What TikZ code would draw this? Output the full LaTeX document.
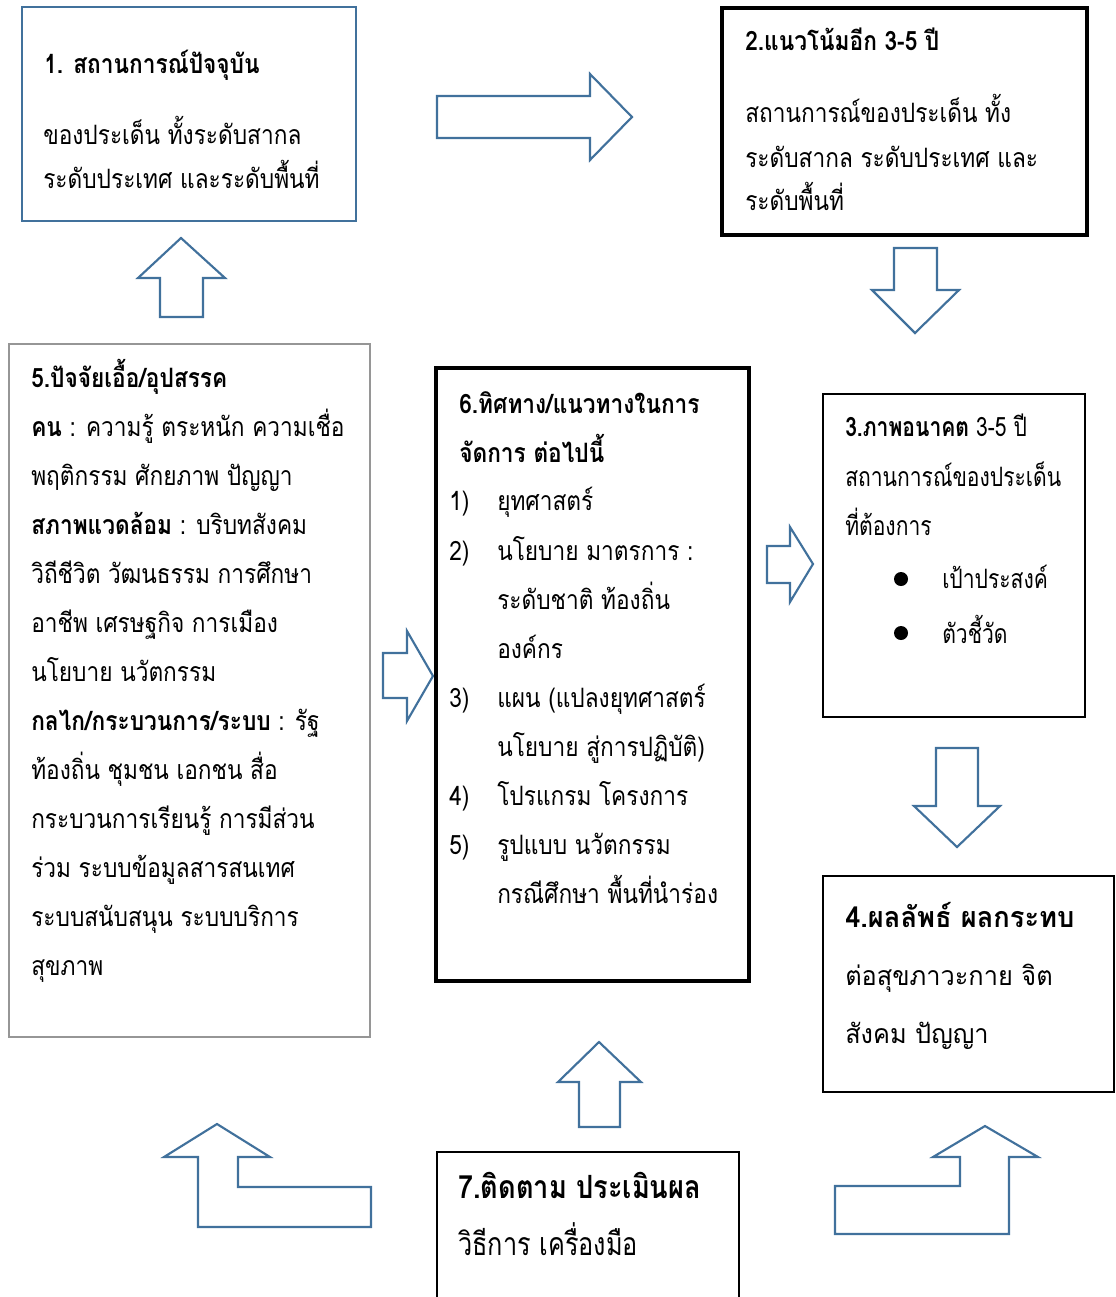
\documentclass[tikz,border=0pt]{standalone}
\usepackage{fontspec}
\newfontfamily\thai[Script=Thai,FakeStretch=0.85]{Loma}
\newfontfamily\thaicond[Script=Thai,FakeStretch=0.79]{Loma}
\newfontfamily\thaiwide[Script=Thai,FakeStretch=0.95]{Loma}
\definecolor{arrowblue}{RGB}{65,113,156}
\definecolor{boxgray}{RGB}{150,150,150}

\begin{document}
\begin{tikzpicture}[x=0.75pt,y=-0.75pt,
  txt/.style={anchor=base west,inner sep=0pt,font=\thai\fontsize{20}{24}\selectfont},
  ctxt/.style={txt,font=\thaicond\fontsize{20}{24}\selectfont},
  wtxt/.style={txt,font=\thaiwide\fontsize{20}{24}\selectfont},
  ntxt/.style={txt,font=\thai\fontsize{24}{28}\selectfont},
  barrow/.style={draw=arrowblue,line width=1.6pt,fill=white,line join=miter}]
\useasboundingbox (0,0) rectangle (1116,1297);
% boxes
\draw [draw=arrowblue,line width=2.2pt] (22,7) rectangle (356,221);
\draw [line width=3.2pt] (722,8) rectangle (1087,235);
\draw [line width=1.8pt] (823,394) rectangle (1085,717);
\draw [line width=1.8pt] (823,876) rectangle (1114,1092);
\draw [draw=boxgray,line width=2pt] (9,344) rectangle (370,1037);
\draw [line width=2.6pt] (436,368) rectangle (749,981);
\draw [line width=2pt] (437,1152) rectangle (739,1320);
% block arrows
\draw [barrow] (437,96) -- (590,96) -- (590,74) -- (632,117) -- (590,160) -- (590,138) -- (437,138) -- cycle;
\draw [barrow] (160,317) -- (160,278) -- (138,278) -- (181,238) -- (225,278) -- (203,278) -- (203,317) -- cycle;
\draw [barrow] (894,248) -- (937,248) -- (937,290) -- (959,290) -- (915,333) -- (872,290) -- (894,290) -- cycle;
\draw [barrow] (383,653) -- (407,653) -- (407,631) -- (433,676) -- (407,721) -- (407,698) -- (383,698) -- cycle;
\draw [barrow] (767,546) -- (790,546) -- (790,527) -- (813,564) -- (790,602) -- (790,583) -- (767,583) -- cycle;
\draw [barrow] (936,748) -- (978,748) -- (978,806) -- (1000,806) -- (957,847) -- (914,806) -- (936,806) -- cycle;
\draw [barrow] (579,1127) -- (579,1082) -- (558,1082) -- (599,1042) -- (641,1082) -- (620,1082) -- (620,1127) -- cycle;
\draw [barrow] (198,1227) -- (371,1227) -- (371,1187) -- (238,1187) -- (238,1157) -- (270,1157) -- (217,1124) -- (164,1157) -- (198,1157) -- cycle;
\draw [barrow] (835,1234) -- (1009,1234) -- (1009,1157) -- (1038,1157) -- (985,1126) -- (933,1157) -- (960,1157) -- (960,1186) -- (835,1186) -- cycle;
% box 1
\node [txt] (t1a) at (44,73) {\bfseries 1. สถานการณ์ปัจจุบัน};
\node [txt] (t1b) at (43,144) {ของประเด็น ทั้งระดับสากล};
\node [txt] (t1c) at (43,188) {ระดับประเทศ และระดับพื้นที่};
% box 2
\node [txt] (t2a) at (745,50) {\bfseries 2.แนวโน้มอีก 3-5 ปี};
\node [txt] (t2b) at (745,122) {สถานการณ์ของประเด็น ทั้ง};
\node [txt] (t2c) at (745,167) {ระดับสากล ระดับประเทศ และ};
\node [txt] (t2d) at (745,210) {ระดับพื้นที่};
% box 3
\node [ctxt] (t3a) at (845,436) {\textbf{3.ภาพอนาคต} 3-5 ปี};
\node [ctxt] (t3b) at (845,486) {สถานการณ์ของประเด็น};
\node [ctxt] (t3c) at (845,535) {ที่ต้องการ};
\fill (901,579) circle (7);
\node [ctxt] (t3d) at (942,588) {เป้าประสงค์};
\fill (901,633) circle (7);
\node [ctxt] (t3e) at (942,643) {ตัวชี้วัด};
% box 4
\node [wtxt,font=\thaiwide\fontsize{21.5}{25}\selectfont] (t4a) at (845,927) {\bfseries 4.ผลลัพธ์ ผลกระทบ};
\node [wtxt] (t4b) at (845,985) {ต่อสุขภาวะกาย จิต};
\node [wtxt] (t4c) at (845,1043) {สังคม ปัญญา};
% box 5
\node [txt] (t5a) at (31,387) {\bfseries 5.ปัจจัยเอื้อ/อุปสรรค};
\node [txt] (t5b) at (31,436) {\textbf{คน} : ความรู้ ตระหนัก ความเชื่อ};
\node [txt] (t5c) at (31,485) {พฤติกรรม ศักยภาพ ปัญญา};
\node [txt] (t5d) at (31,534) {\textbf{สภาพแวดล้อม} : บริบทสังคม};
\node [txt] (t5e) at (31,583) {วิถีชีวิต วัฒนธรรม การศึกษา};
\node [txt] (t5f) at (31,632) {อาชีพ เศรษฐกิจ การเมือง};
\node [txt] (t5g) at (31,681) {นโยบาย นวัตกรรม};
\node [txt] (t5h) at (31,730) {\textbf{กลไก/กระบวนการ/ระบบ} : รัฐ};
\node [txt] (t5i) at (31,779) {ท้องถิ่น ชุมชน เอกชน สื่อ};
\node [txt] (t5j) at (31,828) {กระบวนการเรียนรู้ การมีส่วน};
\node [txt] (t5k) at (31,877) {ร่วม ระบบข้อมูลสารสนเทศ};
\node [txt] (t5l) at (31,926) {ระบบสนับสนุน ระบบบริการ};
\node [txt] (t5m) at (31,975) {สุขภาพ};
% box 6
\node [txt] (t6a) at (459,413) {\bfseries 6.ทิศทาง/แนวทางในการ};
\node [txt] (t6b) at (459,462) {\bfseries จัดการ ต่อไปนี้};
\node [txt] (n61) at (449,510) {1)};
\node [txt] (t61) at (497,510) {ยุทศาสตร์};
\node [txt] (n62) at (449,560) {2)};
\node [txt] (t62) at (497,560) {นโยบาย มาตรการ :};
\node [txt] (t62b) at (497,609) {ระดับชาติ ท้องถิ่น};
\node [txt] (t62c) at (497,658) {องค์กร};
\node [txt] (n63) at (449,707) {3)};
\node [txt] (t63) at (497,707) {แผน (แปลงยุทศาสตร์};
\node [txt] (t63b) at (497,756) {นโยบาย สู่การปฏิบัติ)};
\node [txt] (n64) at (449,805) {4)};
\node [txt] (t64) at (497,805) {โปรแกรม โครงการ};
\node [txt] (n65) at (449,854) {5)};
\node [txt] (t65) at (497,854) {รูปแบบ นวัตกรรม};
\node [txt] (t65b) at (497,903) {กรณีศึกษา พื้นที่นำร่อง};
% box 7
\node [ntxt] (t7a) at (458,1198) {\bfseries 7.ติดตาม ประเมินผล};
\node [ntxt,font=\thaicond\fontsize{24}{28}\selectfont] (t7b) at (458,1255) {วิธีการ เครื่องมือ};
\end{tikzpicture}
\end{document}
